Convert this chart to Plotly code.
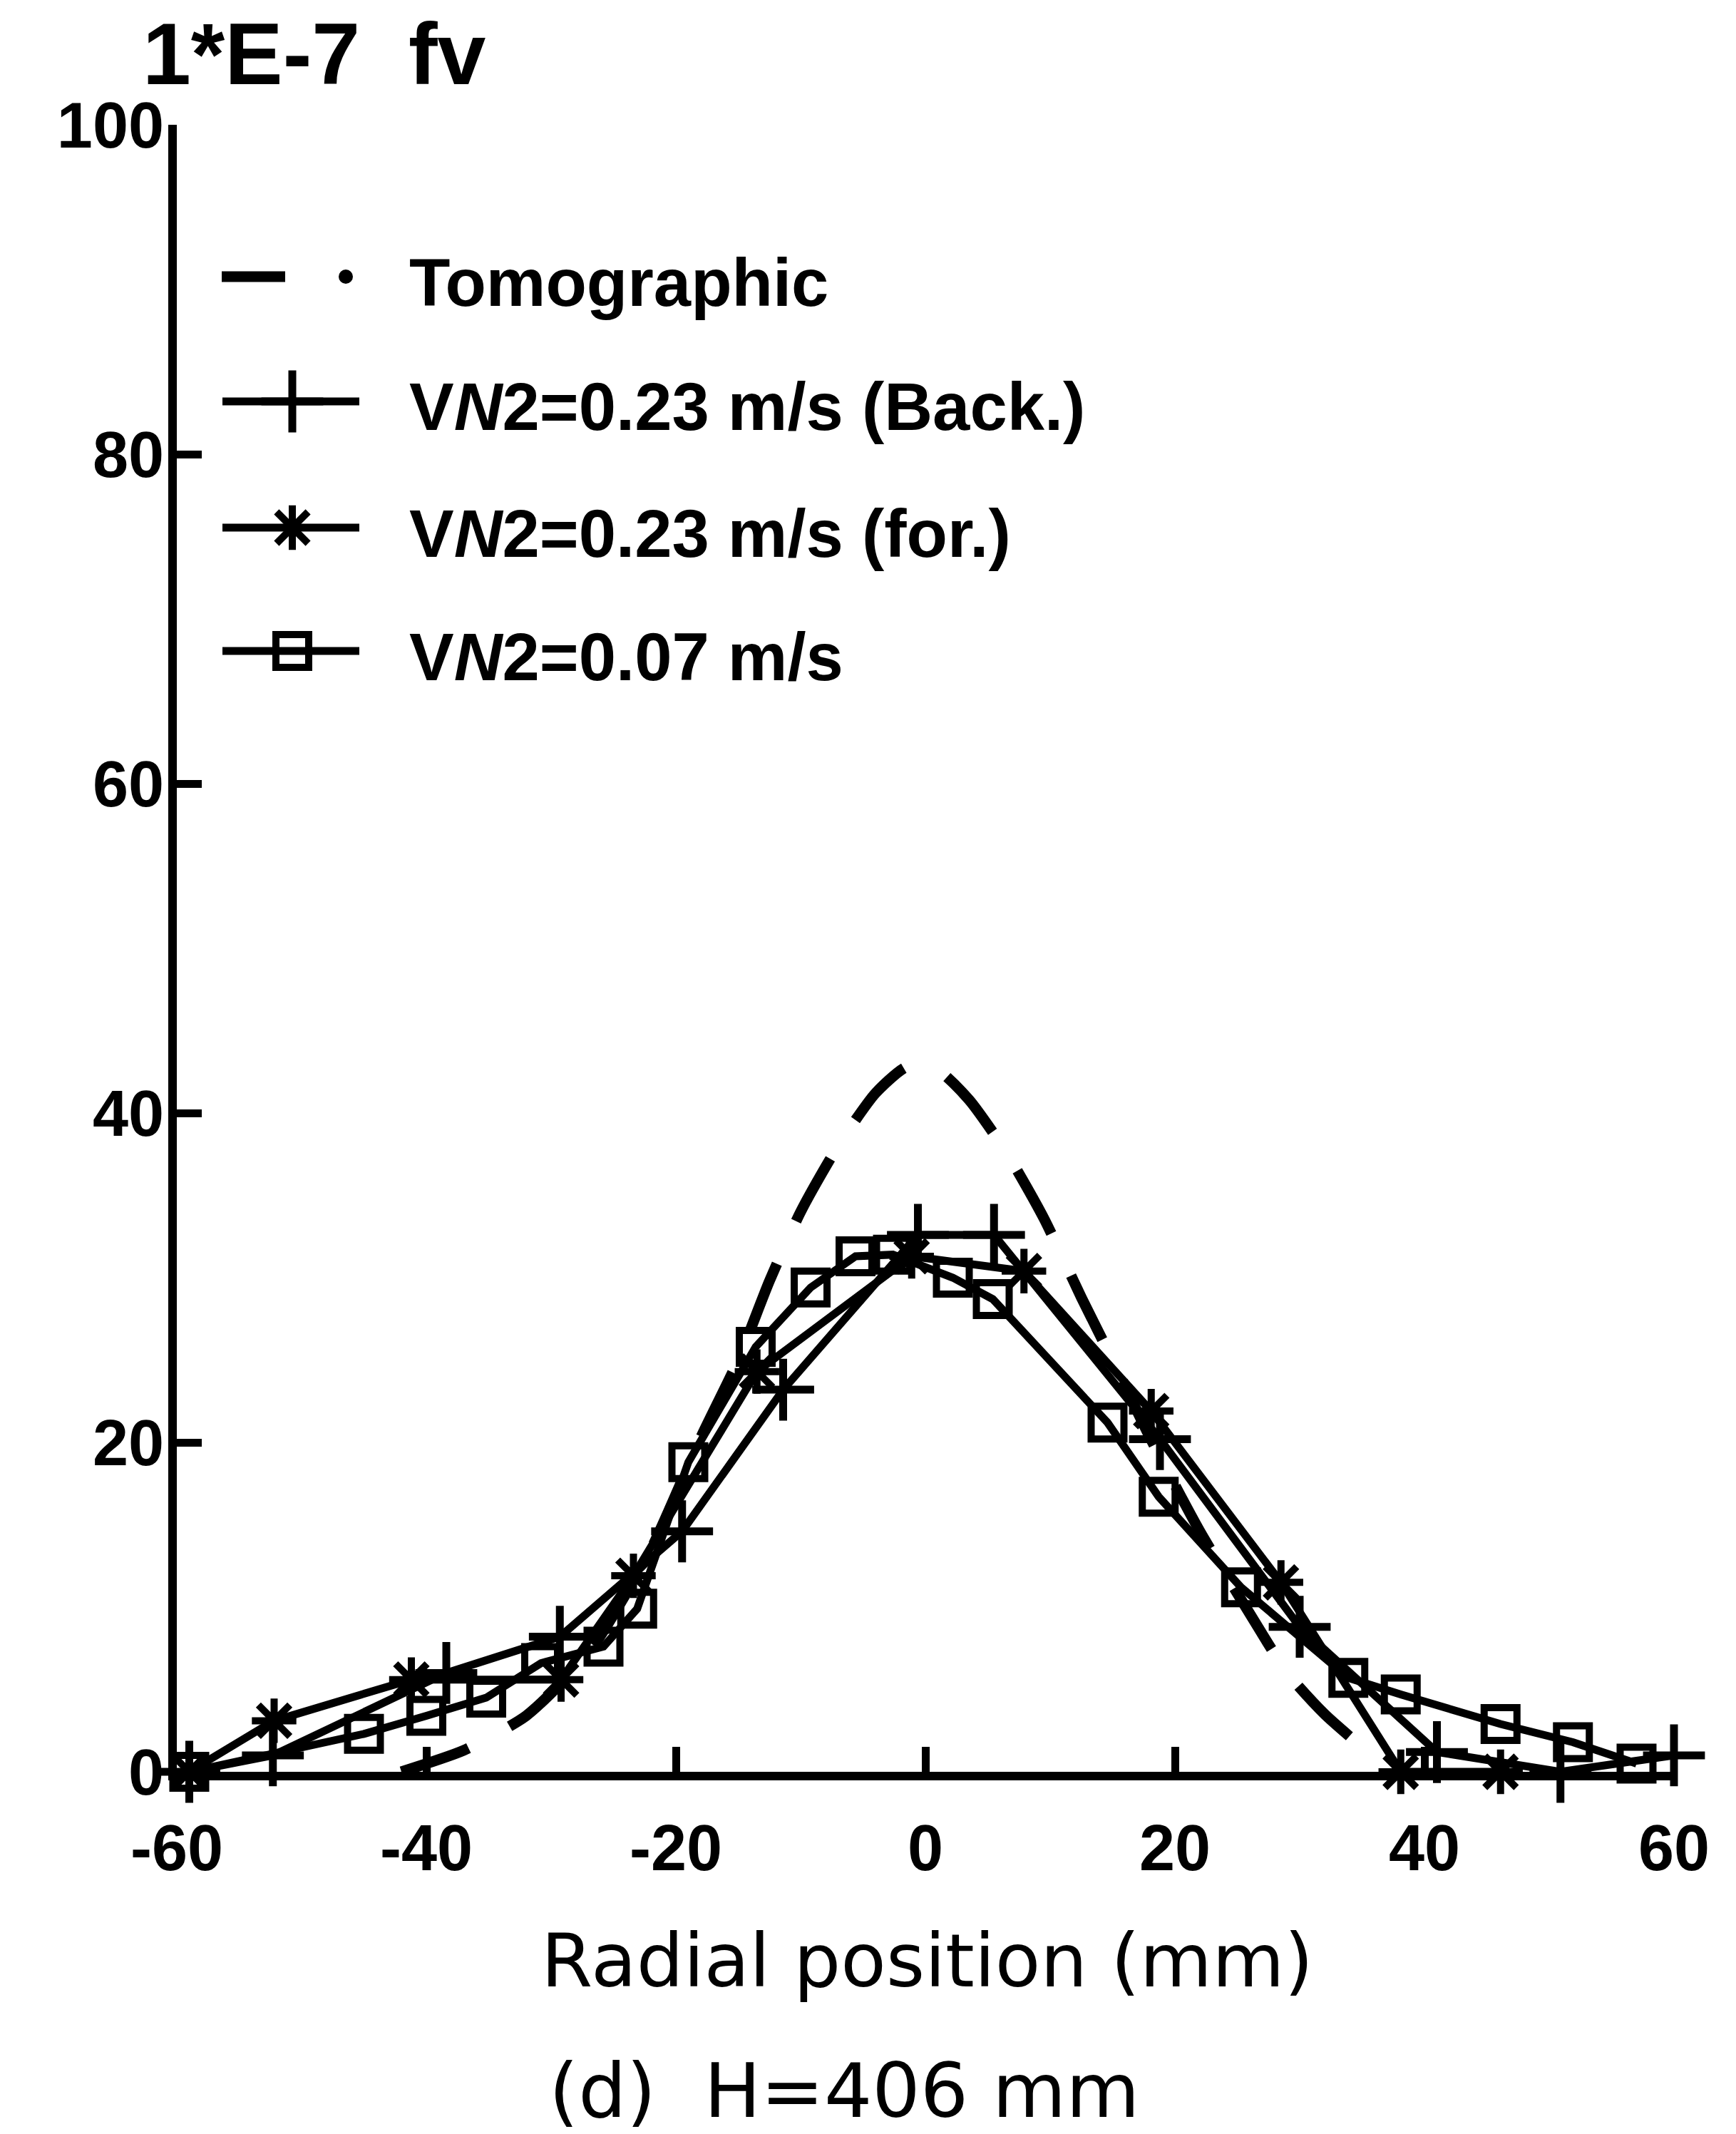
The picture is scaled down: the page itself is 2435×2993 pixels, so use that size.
import plotly.graph_objects as go

# Soot volume fraction radial profiles (fv in units of 1e-7) at H = 406 mm

# Tomographic reconstruction
tomo_x = [-42, -37, -32, -27, -22, -18, -15, -12.5, -10, -7, -4, -1.5,
          1, 3.5, 6.5, 9.5, 12.5, 15, 18, 22, 26, 29, 32, 35]
tomo_y = [0.0, 1.3, 3.4, 7.2, 13.5, 20.3, 25.0, 29.8, 34.0, 38.0, 41.2, 42.8,
          42.6, 40.8, 37.6, 33.6, 28.8, 25.0, 20.3, 14.6, 9.6, 6.0, 3.5, 1.5]

# VN2 = 0.23 m/s, backward
back_x = [-59, -52.3, -38.4, -29.3, -19.5, -11.4, -0.6, 5.5, 18.8, 30.0, 41.0, 50.9, 60.0]
back_y = [0.0, 1.0, 6.0, 8.2, 14.6, 23.2, 32.6, 32.6, 20.2, 8.8, 1.2, 0.0, 1.0]

# VN2 = 0.23 m/s, forward
for_x = [-59, -52.2, -41.2, -29.2, -23.4, -13.5, -1.1, 7.9, 18.1, 28.5, 38.1, 46.1]
for_y = [0.0, 3.1, 5.6, 5.6, 11.9, 24.3, 31.3, 30.4, 21.9, 11.5, 0.0, 0.0]

# VN2 = 0.07 m/s
low_x = [-59, -45.0, -40.0, -35.2, -30.8, -25.8, -23.1, -19.0, -13.6, -9.2, -5.6, -2.6,
         2.2, 5.4, 14.6, 18.7, 25.3, 33.9, 38.1, 46.1, 51.9, 57.0]
low_y = [0.0, 2.3, 3.4, 4.5, 6.6, 7.6, 9.9, 18.8, 25.8, 29.4, 31.3, 31.4,
         30.0, 28.7, 21.2, 16.7, 11.2, 5.7, 4.7, 2.9, 1.8, 0.5]

x_ticks = [-60, -40, -20, 0, 20, 40, 60]
x_tick_text = ["-60", "-40", "-20", "0", "20", "40", "60"]
y_ticks = [0, 20, 40, 60, 80, 100]

legend_labels = [
    "Tomographic",
    "V<i>N</i>2=0.23 m/s (Back.)",
    "V<i>N</i>2=0.23 m/s (for.)",
    "V<i>N</i>2=0.07 m/s",
]

# page geometry (px)
W, H = 2435, 2993
PL, PR, PT, PB = 248, 2348, 175, 2485


def px_x(px):
    """Horizontal pixel position -> paper fraction."""
    return (px - PL) / (PR - PL)


def px_y(py):
    """Vertical pixel position (from top) -> paper fraction."""
    return (PB - py) / (PB - PT)


INK = "black"
BOLD = dict(family="Liberation Sans", color=INK, weight="bold")
PLAIN = dict(family="DejaVu Sans", color=INK)

LINE_W = 11
measured = [
    (back_x, back_y, dict(symbol="cross-thin-open", size=62, color=INK, line=dict(width=11, color=INK))),
    (for_x, for_y, dict(symbol="asterisk-open", size=52, color=INK, line=dict(width=10, color=INK))),
    (low_x, low_y, dict(symbol="square-open", size=46, color=INK, line=dict(width=10, color=INK))),
]

fig = go.Figure()

fig.add_trace(go.Scatter(
    x=tomo_x, y=tomo_y, mode="lines", showlegend=False, cliponaxis=False,
    line=dict(color=INK, width=15, dash="100px,65px", shape="spline", smoothing=0.6),
))

for xs, ys, mk in measured:
    fig.add_trace(go.Scatter(
        x=xs, y=ys, mode="lines+markers", showlegend=False, cliponaxis=False,
        line=dict(color=INK, width=LINE_W), marker=mk,
    ))

# legend keys, drawn on a pixel-scaled overlay axis
rows = [388, 563, 740, 913]
key_x0, key_x1, key_mid = 312, 504, 410
text_x = 572

fig.add_trace(go.Scatter(
    x=[311, 400], y=[rows[0], rows[0]], xaxis="x2", yaxis="y2", mode="lines",
    line=dict(color=INK, width=15), showlegend=False, cliponaxis=False,
))
fig.add_trace(go.Scatter(
    x=[485], y=[rows[0]], xaxis="x2", yaxis="y2", mode="markers",
    marker=dict(symbol="circle", size=20, color=INK), showlegend=False, cliponaxis=False,
))
for row, (_, _, mk) in zip(rows[1:], measured):
    fig.add_trace(go.Scatter(
        x=[key_x0, key_x1], y=[row, row], xaxis="x2", yaxis="y2", mode="lines",
        line=dict(color=INK, width=LINE_W), showlegend=False, cliponaxis=False,
    ))
    fig.add_trace(go.Scatter(
        x=[key_mid], y=[row], xaxis="x2", yaxis="y2", mode="markers",
        marker=mk, showlegend=False, cliponaxis=False,
    ))

annotations = []
for row, label in zip(rows, legend_labels):
    annotations.append(dict(
        x=px_x(text_x), y=px_y(row + 8), xref="paper", yref="paper", text=label,
        showarrow=False, xanchor="left", yanchor="middle", font=dict(size=94, **BOLD),
    ))

annotations += [
    dict(x=px_x(198), y=px_y(76), xref="paper", yref="paper", text="1*E-7\u00a0\u00a0fv",
         showarrow=False, xanchor="left", yanchor="middle", font=dict(size=122, **BOLD)),
    dict(x=px_x(1300), y=px_y(2750), xref="paper", yref="paper", text="Radial position (mm)",
         showarrow=False, xanchor="center", yanchor="middle", font=dict(size=104, **PLAIN)),
    dict(x=px_x(1184), y=px_y(2932), xref="paper", yref="paper", text="(d)\u00a0\u00a0H=406 mm",
         showarrow=False, xanchor="center", yanchor="middle", font=dict(size=106, **PLAIN)),
]

axis_common = dict(
    showline=True, linewidth=12, linecolor=INK, mirror=False,
    ticks="inside", ticklen=35, tickwidth=11, tickcolor=INK,
    showgrid=False, zeroline=False, tickfont=dict(size=90, **BOLD),
)

fig.update_layout(
    width=W, height=H, autosize=False,
    margin=dict(l=PL, r=W - PR, t=PT, b=H - PB, pad=0),
    paper_bgcolor="white", plot_bgcolor="white",
    showlegend=False,
    xaxis=dict(range=[-60, 60], tickvals=x_ticks, ticktext=x_tick_text,
               ticklabelstandoff=18, automargin=False, **axis_common),
    yaxis=dict(range=[0, 100], tickvals=y_ticks, ticklabelstandoff=-12,
               automargin=False, **axis_common),
    xaxis2=dict(overlaying="x", anchor="y2", range=[PL, PR], visible=False, automargin=False),
    yaxis2=dict(overlaying="y", anchor="x2", range=[PB, PT], visible=False, automargin=False),
    annotations=annotations,
)

fig.write_html("out.html")
